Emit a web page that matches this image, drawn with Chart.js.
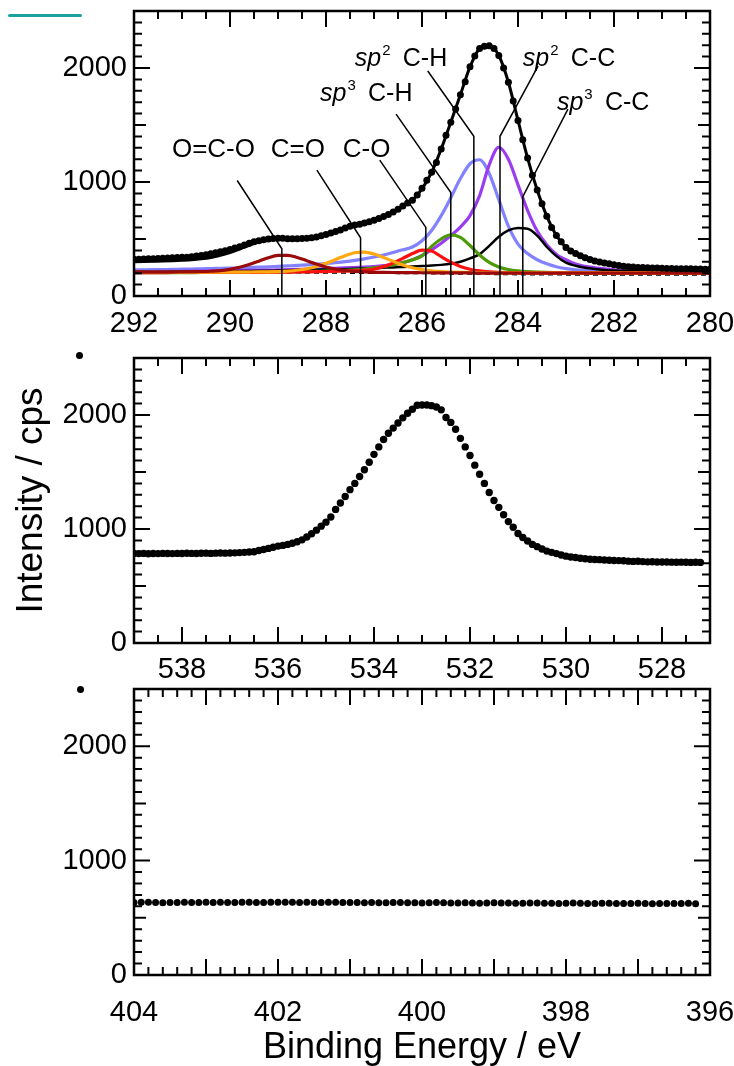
<!DOCTYPE html>
<html>
<head>
<meta charset="utf-8">
<title>XPS C 1s / O 1s / N 1s</title>
<script src="https://cdn.jsdelivr.net/npm/chart.js@4.4.1/dist/chart.umd.min.js"></script>
<style>
  body { margin: 0; background: #fff; }
  #page { position: relative; width: 734px; height: 1066px; overflow: hidden; background: #fff; }
  #page canvas { position: absolute; left: 0; }
  .mark { position: absolute; }
</style>
</head>
<body>
<div id="page">
  <div class="mark" style="left:8px;top:14px;width:74px;height:3px;background:#1aa39e;border-radius:2px"></div>
  <div class="mark" style="left:76px;top:352px;width:7px;height:7px;background:#000;border-radius:50%"></div>
  <div class="mark" style="left:77px;top:686px;width:7px;height:7px;background:#000;border-radius:50%"></div>
  <canvas id="c1s" width="734" height="345" style="top:0"></canvas>
  <canvas id="o1s" width="734" height="340" style="top:345px"></canvas>
  <canvas id="n1s" width="734" height="381" style="top:685px"></canvas>
</div>
<script>
const FONT = '"Liberation Sans", Arial, sans-serif';
const TICK_FONT = '"Liberation Sans Narrow", "Liberation Sans", Arial, sans-serif';

// ---- C 1s: measured counts, 292.0 -> 280.0 eV every 0.1 eV
const c1sStart = 292, c1sStep = 0.1;
const c1sCounts = [
  322, 323, 325, 326, 327, 329, 331, 333, 335, 337,
  339, 341, 345, 350, 356, 362, 370, 379, 388, 397,
  407, 420, 433, 448, 463, 475, 485, 493, 500, 505,
  507, 506, 503, 502, 503, 505, 507, 510, 518, 528,
  540, 553, 566, 580, 597, 612, 622, 630, 641, 652,
  665, 680, 697, 716, 737, 760, 790, 815, 840, 885,
  945, 1015, 1085, 1170, 1290, 1410, 1525, 1640, 1765, 1880,
  2010, 2105, 2170, 2190, 2195, 2170, 2110, 2000, 1875, 1710,
  1540, 1370, 1210, 1060, 930, 810, 700, 600, 530, 475,
  425, 395, 372, 352, 335, 320, 308, 298, 290, 282,
  275, 268, 262, 257, 254, 251, 249, 247, 246, 245,
  243, 242, 241, 240, 239, 238, 238, 237, 236, 235, 235
];

// ---- C 1s fit, 292.0 -> 280.0 eV every 0.2 eV
const fitStart = 292, fitStep = 0.2;
const fitEnvelope = [
  300, 302, 304, 306, 309, 313, 318, 326, 338, 357,
  382, 412, 445, 475, 495, 503, 503, 502, 506, 516,
  538, 564, 594, 620, 641, 663, 695, 735, 788, 840,
  940, 1085, 1290, 1525, 1765, 2010, 2170, 2195, 2110, 1875,
  1540, 1210, 930, 700, 530, 425, 372, 335, 308, 290,
  275, 262, 254, 249, 246, 243, 241, 239, 238, 236, 235
];
const fitBackground = [
  207, 207, 207, 207, 206, 206, 206, 206, 205, 205,
  205, 205, 204, 204, 204, 203, 203, 203, 202, 202,
  202, 201, 201, 200, 200, 200, 199, 199, 198, 198,
  197, 196, 195, 194, 193, 192, 191, 190, 189, 188,
  187, 187, 186, 186, 186, 185, 185, 185, 185, 185,
  185, 185, 185, 185, 185, 185, 185, 185, 185, 185, 185
];
const peakOCO = [
  209, 209, 209, 210, 210, 211, 212, 214, 217, 222,
  234, 252, 276, 305, 336, 356, 357, 338, 310, 280,
  254, 236, 224, 216, 211, 208, 207, 206, 205, 205,
  204, 204, 203, 203, 202, 202, 201, 201, 201, 201,
  201, 201, 201, 200, 200, 200, 200, 200, 200, 200,
  200, 200, 200, 200, 200, 200, 200, 200, 200, 200, 200
];
const peakCdO = [
  207, 207, 207, 207, 207, 208, 208, 208, 209, 209,
  209, 209, 210, 211, 212, 214, 218, 226, 239, 259,
  287, 320, 354, 379, 384, 368, 338, 304, 272, 248,
  231, 221, 214, 210, 208, 206, 205, 204, 204, 203,
  203, 203, 203, 203, 203, 202, 202, 202, 202, 202,
  202, 202, 202, 202, 202, 202, 202, 202, 202, 202, 202
];
const peakCO = [
  205, 205, 205, 205, 206, 206, 206, 206, 207, 207,
  207, 207, 208, 208, 209, 209, 210, 211, 212, 213,
  215, 217, 219, 221, 226, 235, 258, 290, 330, 372,
  402, 395, 345, 297, 258, 235, 220, 212, 208, 206,
  205, 204, 203, 203, 203, 203, 203, 203, 203, 203,
  203, 203, 203, 203, 203, 203, 203, 203, 203, 203, 203
];
const peakSp3CH = [
  204, 204, 204, 205, 205, 205, 205, 206, 206, 206,
  207, 207, 208, 208, 209, 210, 211, 212, 214, 216,
  218, 221, 225, 230, 237, 246, 258, 274, 293, 317,
  352, 435, 500, 536, 515, 443, 360, 295, 255, 232,
  220, 213, 209, 207, 206, 205, 205, 204, 204, 204,
  204, 204, 204, 204, 203, 203, 203, 203, 203, 203, 203
];
const peakSp2CH = [
  229, 230, 231, 232, 233, 235, 237, 239, 241, 243,
  245, 247, 250, 253, 256, 260, 264, 268, 273, 279,
  285, 293, 302, 313, 326, 342, 360, 382, 405, 430,
  485, 575, 705, 862, 1030, 1160, 1195, 1075, 845, 612,
  455, 372, 318, 282, 256, 240, 230, 224, 220, 217,
  215, 213, 212, 211, 210, 209, 209, 208, 208, 208, 208
];
const peakSp2CC = [
  214, 215, 215, 216, 216, 217, 218, 219, 220, 221,
  222, 223, 224, 225, 227, 229, 231, 233, 235, 237,
  240, 243, 246, 250, 254, 259, 266, 276, 293, 318,
  355, 405, 462, 530, 605, 705, 880, 1150, 1305, 1200,
  975, 750, 570, 450, 365, 318, 280, 260, 248, 238,
  230, 225, 221, 218, 216, 214, 213, 212, 211, 210, 210
];
const peakSp3CC = [
  212, 212, 213, 213, 214, 214, 215, 215, 216, 217,
  218, 219, 220, 221, 222, 223, 225, 227, 229, 231,
  233, 235, 237, 239, 242, 245, 248, 251, 255, 259,
  263, 267, 273, 283, 300, 330, 367, 440, 520, 575,
  596, 590, 530, 430, 350, 292, 265, 248, 237, 229,
  224, 220, 217, 215, 213, 212, 211, 210, 209, 209, 208
];

// leader lines from each label down to its peak position (eV, cps)
const leadOCO   = [[289.85, 1013], [288.92, 414], [288.92, 0]];
const leadCdO   = [[288.19, 1104], [287.28, 511], [287.28, 0]];
const leadCO    = [[286.88, 1192], [285.92, 602], [285.92, 0]];
const leadSp3CH = [[286.54, 1595], [285.40, 907], [285.40, 0]];
const leadSp2CH = [[285.88, 1974], [284.92, 1401], [284.92, 0]];
const leadSp2CC = [[283.58, 2018], [284.375, 1401], [284.375, 0]];
const leadSp3CC = [[282.96, 1639], [283.90, 872], [283.90, 0]];

const peakLabels = [
  { text: 'O=C-O', x: 291.21, y: 1286 },
  { text: 'C=O', x: 289.15, y: 1286 },
  { text: 'C-O', x: 287.65, y: 1286 },
  { sup: '3', text: 'C-H', x: 288.125, y: 1771 },
  { sup: '2', text: 'C-H', x: 287.40, y: 2079 },
  { sup: '2', text: 'C-C', x: 283.90, y: 2079 },
  { sup: '3', text: 'C-C', x: 283.19, y: 1692 }
];

// ---- O 1s: 539.0 -> 527.2 eV every 0.1 eV
const o1sStart = 539, o1sStep = 0.1;
const o1sCounts = [
  785, 784, 786, 783, 785, 784, 786, 785, 784, 786,
  785, 787, 786, 785, 787, 788, 786, 788, 789, 788,
  790, 791, 793, 795, 798, 801, 812, 820, 830, 840,
  850, 856, 865, 875, 888, 905, 930, 958, 990, 1025,
  1060, 1105, 1172, 1228, 1285, 1345, 1400, 1460, 1520, 1585,
  1655, 1720, 1785, 1840, 1885, 1930, 1975, 2015, 2050, 2085,
  2088, 2088, 2082, 2070, 2045, 1978, 1935, 1875, 1795, 1720,
  1645, 1560, 1480, 1400, 1320, 1250, 1190, 1125, 1065, 1015,
  960, 925, 895, 865, 845, 825, 806, 795, 784, 772,
  762, 755, 750, 744, 739, 735, 733, 731, 728, 726,
  724, 723, 722, 718, 716, 717, 714, 712, 713, 711,
  710, 711, 709, 708, 709, 708, 707, 708, 707
];

// ---- N 1s: 404.0 -> 396.2 eV every 0.1 eV
const n1sStart = 404, n1sStep = 0.1;
const n1sCounts = [
  634, 636, 635, 633, 632, 634, 633, 635, 634, 633,
  636, 634, 635, 633, 634, 635, 637, 634, 633, 635,
  636, 637, 635, 634, 636, 634, 633, 635, 636, 634,
  633, 634, 632, 633, 631, 632, 634, 633, 631, 632,
  630, 631, 633, 631, 630, 629, 631, 630, 628, 629,
  631, 630, 629, 627, 628, 630, 629, 627, 628, 626,
  627, 629, 627, 626, 625, 627, 628, 626, 624, 625,
  627, 625, 623, 624, 626, 625, 624, 627, 623
];

const c1sTicks = [292, 290, 288, 286, 284, 282, 280];
const o1sTicks = [538, 536, 534, 532, 530, 528];
const n1sTicks = [404, 402, 400, 398, 396];
const countTicks = [0, 1000, 2000];

function series(start, step, values) {
  return values.map((v, i) => ({ x: +(start - i * step).toFixed(2), y: v }));
}
function pairs(list) {
  return list.map(p => ({ x: p[0], y: p[1] }));
}

// inward tick marks on all four sides + frame
const inwardTicks = {
  id: 'inwardTicks',
  afterDatasetsDraw(chart) {
    const o = chart.config.options.frame;
    const { ctx, chartArea: a, scales: { x, y } } = chart;
    const near = (v, s) => s && Math.abs(v / s - Math.round(v / s)) < 1e-6;
    const each = (scale, step, fn) => {
      const lo = Math.min(scale.min, scale.max), hi = Math.max(scale.min, scale.max);
      for (let n = Math.ceil(lo / step - 1e-6); n * step <= hi + 1e-6; n++) fn(n * step);
    };
    ctx.save();
    ctx.strokeStyle = '#000';
    ctx.lineWidth = 2;
    ctx.beginPath();
    each(x, o.xMinor, v => {
      const px = x.getPixelForValue(v);
      const len = near(v, o.xMajor) ? 16 : 8;
      ctx.moveTo(px, a.bottom); ctx.lineTo(px, a.bottom - len);
      ctx.moveTo(px, a.top); ctx.lineTo(px, a.top + len);
    });
    each(y, o.yMinor, v => {
      const py = y.getPixelForValue(v);
      const len = near(v, o.yMajor) ? 16 : (near(v, o.yMid) ? 12 : 8);
      ctx.moveTo(a.left, py); ctx.lineTo(a.left + len, py);
      ctx.moveTo(a.right, py); ctx.lineTo(a.right - len, py);
    });
    ctx.stroke();
    ctx.lineWidth = 2.5;
    ctx.strokeRect(a.left, a.top, a.width, a.height);
    ctx.restore();
  }
};

const peakText = {
  id: 'peakText',
  afterDatasetsDraw(chart) {
    const { ctx, scales: { x, y } } = chart;
    ctx.save();
    ctx.fillStyle = '#000';
    ctx.textBaseline = 'middle';
    ctx.textAlign = 'left';
    peakLabels.forEach(l => {
      const px = x.getPixelForValue(l.x);
      const py = y.getPixelForValue(l.y);
      if (l.sup) {
        ctx.font = `italic 25px ${FONT}`;
        ctx.fillText('sp', px, py);
        const w = ctx.measureText('sp').width;
        ctx.font = `15px ${FONT}`;
        ctx.fillText(l.sup, px + w + 1, py - 8);
        ctx.font = `25px ${FONT}`;
        ctx.fillText(l.text, px + 48, py);
      } else {
        ctx.font = `26px ${FONT}`;
        ctx.fillText(l.text, px, py);
      }
    });
    ctx.restore();
  }
};

function lineSet(data, color, width, extra) {
  return Object.assign({
    data, showLine: true, borderColor: color, borderWidth: width,
    pointRadius: 0, fill: false, tension: 0
  }, extra || {});
}
function dotSet(data, r) {
  return {
    data, showLine: false, pointRadius: r, pointBackgroundColor: '#000',
    pointBorderWidth: 0, pointHoverRadius: r
  };
}

function makeChart(id, cfg) {
  const xTicks = cfg.xTicks;
  return new Chart(document.getElementById(id), {
    type: 'scatter',
    data: { datasets: cfg.datasets },
    options: {
      responsive: false,
      animation: false,
      events: [],
      layout: { padding: { left: 0, right: 24, top: cfg.padTop, bottom: 0 } },
      frame: cfg.frame,
      plugins: { legend: { display: false }, tooltip: { enabled: false } },
      scales: {
        x: {
          type: 'linear', reverse: true, min: cfg.xMin, max: cfg.xMax,
          grid: { display: false, drawTicks: false }, border: { display: false },
          ticks: { color: '#000', padding: cfg.xPad, autoSkip: false, maxRotation: 0,
                   font: { family: TICK_FONT, size: 29 }, callback: v => String(v) },
          title: cfg.xTitle ? { display: true, text: cfg.xTitle, color: '#000',
                   font: { family: FONT, size: 36, lineHeight: 1.0 }, padding: { top: 0, bottom: 0 } }
                 : { display: false },
          afterBuildTicks: s => { s.ticks = xTicks.map(v => ({ value: v })); },
          afterFit: s => { s.height = cfg.xHeight; s.paddingLeft = 0; s.paddingRight = 0; }
        },
        y: {
          type: 'linear', min: 0, max: 2500,
          grid: { display: false, drawTicks: false }, border: { display: false },
          ticks: { color: '#000', padding: 7, font: { family: TICK_FONT, size: 29 },
                   callback: v => String(v) },
          title: cfg.yTitle ? { display: true, text: cfg.yTitle, color: '#000',
                   font: { family: FONT, size: 37, lineHeight: 1.2 }, padding: { top: 10, bottom: 0 } }
                 : { display: false },
          afterBuildTicks: s => { s.ticks = countTicks.map(v => ({ value: v })); },
          afterFit: s => { s.width = 134; s.paddingTop = 0; s.paddingBottom = 0; }
        }
      }
    },
    plugins: cfg.plugins
  });
}

const smooth = { cubicInterpolationMode: 'monotone' };

makeChart('c1s', {
  xMin: 280, xMax: 292, xTicks: c1sTicks, padTop: 11, xHeight: 49, xPad: 11,
  frame: { xMajor: 2, xMinor: 0.5, yMajor: 1000, yMid: 500, yMinor: 100 },
  plugins: [inwardTicks, peakText],
  datasets: [
    lineSet(pairs(leadOCO), '#000', 1.5),
    lineSet(pairs(leadCdO), '#000', 1.5),
    lineSet(pairs(leadCO), '#000', 1.5),
    lineSet(pairs(leadSp3CH), '#000', 1.5),
    lineSet(pairs(leadSp2CH), '#000', 1.5),
    lineSet(pairs(leadSp2CC), '#000', 1.5),
    lineSet(pairs(leadSp3CC), '#000', 1.5),
    dotSet(series(c1sStart, c1sStep, c1sCounts), 3.5),
    lineSet(series(fitStart, fitStep, fitEnvelope), '#000', 3, smooth),
    lineSet(series(fitStart, fitStep, peakOCO), '#9a0a0a', 3.2, smooth),
    lineSet(series(fitStart, fitStep, peakCdO), '#ffa812', 3.2, smooth),
    lineSet(series(fitStart, fitStep, peakCO), '#ff1010', 3.2, smooth),
    lineSet(series(fitStart, fitStep, peakSp3CH), '#4e9a06', 3.2, smooth),
    lineSet(series(fitStart, fitStep, peakSp3CC), '#000', 2.5, smooth),
    lineSet(series(fitStart, fitStep, peakSp2CC), '#9a3cf0', 3.2, smooth),
    lineSet(series(fitStart, fitStep, peakSp2CH), '#8282ff', 3.2, smooth),
    lineSet(series(fitStart, fitStep, fitBackground), '#000', 1.5, { borderDash: [5, 4] })
  ]
});

makeChart('o1s', {
  xMin: 527, xMax: 539, xTicks: o1sTicks, padTop: 13, xHeight: 42, xPad: 10,
  yTitle: 'Intensity / cps',
  frame: { xMajor: 2, xMinor: 0.5, yMajor: 1000, yMid: 500, yMinor: 100 },
  plugins: [inwardTicks],
  datasets: [dotSet(series(o1sStart, o1sStep, o1sCounts), 3.7)]
});

makeChart('n1s', {
  xMin: 396, xMax: 404, xTicks: n1sTicks, padTop: 4, xHeight: 91, xPad: 21,
  xTitle: 'Binding Energy / eV',
  frame: { xMajor: 1, xMinor: 0.2, yMajor: 1000, yMid: 500, yMinor: 100 },
  plugins: [inwardTicks],
  datasets: [dotSet(series(n1sStart, n1sStep, n1sCounts), 3.5)]
});
</script>
</body>
</html>
